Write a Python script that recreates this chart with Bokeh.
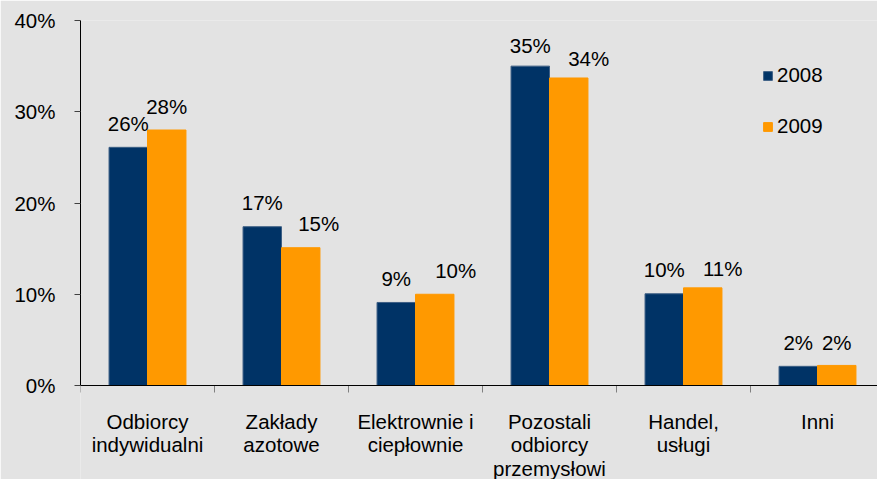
from bokeh.plotting import figure
from bokeh.models import (ColumnDataSource, FixedTicker, Range1d, Legend, LegendItem, Span)
from bokeh.embed import file_html
from bokeh.resources import INLINE
from bokeh.core.properties import value

# ---- data ----
categories = ["Odbiorcy\nindywidualni", "Zakłady\nazotowe", "Elektrownie i\nciepłownie",
              "Pozostali\nodbiorcy\nprzemysłowi", "Handel,\nusługi", "Inni"]
series_names = ["2008", "2009"]
v2008 = [26.1, 17.4, 9.1, 35.0, 10.05, 2.1]
v2009 = [28.0, 15.1, 10.0, 33.7, 10.7, 2.2]
labels2008 = ["26%", "17%", "9%", "35%", "10%", "2%"]
labels2009 = ["28%", "15%", "10%", "34%", "11%", "2%"]
y_ticks = [0, 10, 20, 30, 40]
y_tick_labels = ["0%", "10%", "20%", "30%", "40%"]

# ---- style / layout ----
NAVY = "#003366"
ORANGE = "#ff9900"
BG = "#e3e3e3"
FONT = "Liberation Sans"
FS = "20.5px"
BAR_W = 0.287
W, H = 877, 479
LEFT, TOP = 80, 20
PLOT_H_PX = 365              # pixel height of the 0..40 % band
BELOW_PX = H - TOP - PLOT_H_PX   # room for category names under the axis
PX_PER_UNIT = PLOT_H_PX / 40.0
TICK_PX = 7
CAT_FIRST_PX = 24.5          # gap axis -> top of first category line
CAT_LINE_PX = 23.3           # category line spacing
# manual label nudges (pixels) as placed in the original
off2008_x = [0, 0, 0, 0, 0, 0]
off2009_x = [0, 18, 21, 20, 20, 0]
off2008_y = [-24, -24, -24, -21, -24, -24]
off2009_y = [-24, -24, -24, -19, -19, -23]

n = len(categories)
centers = [i + 0.5 for i in range(n)]
bounds = list(range(n + 1))

src = ColumnDataSource(dict(
    x1=[c - BAR_W / 2 for c in centers],
    x2=[c + BAR_W / 2 for c in centers],
    v1=v2008, v2=v2009, l1=labels2008, l2=labels2009,
    ox1=off2008_x, ox2=off2009_x, oy1=off2008_y, oy2=off2009_y,
))

# one entry per text line of each category name
cx, ct, coff = [], [], []
for c, name in zip(centers, categories):
    for k, line in enumerate(name.split("\n")):
        cx.append(c)
        ct.append(line)
        coff.append(CAT_FIRST_PX + k * CAT_LINE_PX)
cat_src = ColumnDataSource(dict(x=cx, y=[0] * len(cx), t=ct, off=coff))
tick_src = ColumnDataSource(dict(x=bounds, y0=[0] * (n + 1),
                                 y1=[-TICK_PX / PX_PER_UNIT] * (n + 1)))

p = figure(width=W, height=H, output_backend="svg", toolbar_location=None,
           x_axis_type=None,
           x_range=Range1d(0, (W - LEFT) / 134),
           y_range=Range1d(-BELOW_PX / PX_PER_UNIT, 40),
           min_border_left=LEFT, min_border_right=0, min_border_top=TOP, min_border_bottom=0)

p.background_fill_color = BG
p.border_fill_color = BG
p.outline_line_color = None
p.xgrid.visible = False
p.ygrid.visible = False

r1 = p.vbar(x="x1", top="v1", bottom=0, width=BAR_W, source=src,
            fill_color=NAVY, line_color="#3d5f85", line_width=1)
r2 = p.vbar(x="x2", top="v2", bottom=0, width=BAR_W, source=src,
            fill_color=ORANGE, line_color=ORANGE, line_width=1)

p.text(x="x1", y="v1", text="l1", source=src, x_offset="ox1", y_offset="oy1",
       text_align="center", text_baseline="alphabetic", text_font=value(FONT),
       text_font_size=FS, text_color="#000000")
p.text(x="x2", y="v2", text="l2", source=src, x_offset="ox2", y_offset="oy2",
       text_align="center", text_baseline="alphabetic", text_font=value(FONT),
       text_font_size=FS, text_color="#000000")

# category axis: line, boundary ticks, names
p.add_layout(Span(location=0, dimension="width", line_color="#000000", line_width=1))
p.segment(x0="x", y0="y0", x1="x", y1="y1", source=tick_src,
          line_color="#808080", line_width=1)
p.text(x="x", y="y", text="t", source=cat_src, y_offset="off",
       text_align="center", text_baseline="top", text_font=value(FONT),
       text_font_size=FS, text_color="#000000")

# y axis
ya = p.yaxis[0]
ya.ticker = FixedTicker(ticks=y_ticks, minor_ticks=[])
ya.bounds = (0, 40)
ya.major_label_overrides = {t: l for t, l in zip(y_ticks, y_tick_labels)}
ya.major_tick_out = 6
ya.major_tick_in = 0
ya.major_tick_line_color = "#404040"
ya.axis_line_color = "#000000"
ya.major_label_text_font = FONT
ya.major_label_text_font_size = FS
ya.major_label_text_color = "#000000"
ya.major_label_standoff = 19

legend = Legend(items=[LegendItem(label=series_names[0], renderers=[r1]),
                       LegendItem(label=series_names[1], renderers=[r2])],
                location=(682, 341))
legend.glyph_width = 11
legend.glyph_height = 11
legend.label_standoff = 4
legend.spacing = 27
legend.padding = 0
legend.margin = 0
legend.border_line_color = None
legend.background_fill_alpha = 0
legend.label_text_font = FONT
legend.label_text_font_size = FS
legend.label_text_color = "#000000"
p.add_layout(legend)

open("out.html", "w").write(file_html(p, INLINE))
